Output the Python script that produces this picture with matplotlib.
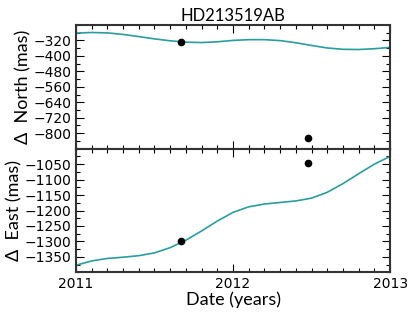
import matplotlib
matplotlib.use('Agg')
import matplotlib.pyplot as plt
from matplotlib.ticker import MultipleLocator

years = [2011.0, 2011.1, 2011.2, 2011.3, 2011.4, 2011.5, 2011.6, 2011.7, 2011.8, 2011.9,
         2012.0, 2012.1, 2012.2, 2012.3, 2012.4, 2012.5, 2012.6, 2012.7, 2012.8, 2012.9, 2013.0]
north_model = [-282, -279, -281, -289, -300, -312, -322, -329, -331, -327,
               -320, -316, -316, -321, -332, -346, -359, -366, -367, -363, -356]
east_model = [-1377, -1363, -1355, -1351, -1346, -1337, -1320, -1296, -1266, -1234,
              -1206, -1188, -1179, -1174, -1169, -1160, -1141, -1113, -1081, -1050, -1025]

# measurements
obs_years = [2011.67, 2012.475]
obs_north = [-328, -827]
obs_east = [-1300, -1047]

label_font = 'Lato'
teal = '#2a9d9d'

fig = plt.figure(figsize=(4.15, 3.12), dpi=100)
gs = fig.add_gridspec(2, 1, left=0.183, right=0.94, top=0.92, bottom=0.127, hspace=0)
ax1 = fig.add_subplot(gs[0])
ax2 = fig.add_subplot(gs[1], sharex=ax1)

ax1.plot(years, north_model, color=teal, lw=1.2)
ax1.plot(obs_years, obs_north, 'o', color='black', ms=4.5)
ax2.plot(years, east_model, color=teal, lw=1.2)
ax2.plot(obs_years, obs_east, 'o', color='black', ms=4.5)

ax1.set_xlim(2011, 2013)
ax1.set_ylim(-880, -240)
ax2.set_ylim(-1400, -1000)

ax1.yaxis.set_minor_locator(MultipleLocator(40))
ax1.set_yticks([-320, -400, -480, -560, -640, -720, -800])
ax2.yaxis.set_minor_locator(MultipleLocator(25))
ax2.set_yticks([-1050, -1100, -1150, -1200, -1250, -1300, -1350])
ax2.set_xticks([2011, 2012, 2013])
ax2.set_xticklabels(['2011', '2012', '2013'])
ax2.xaxis.set_minor_locator(MultipleLocator(0.1))
plt.setp(ax1.get_xticklabels(), visible=False)

for ax in (ax1, ax2):
    ax.tick_params(which='both', direction='in', top=True, right=True, labelsize=10)
    ax.tick_params(which='major', length=6, width=0.8)
    ax.tick_params(which='minor', length=3, width=0.8)
    for s in ax.spines.values():
        s.set_linewidth(1.5)
        s.set_color('#333333')

ax1.set_title('HD213519AB', fontsize=12, family=label_font, pad=3)
ax1.set_ylabel('Δ  North (mas)', fontsize=13, family=label_font, labelpad=1)
ax2.set_ylabel('Δ  East (mas)', fontsize=13, family=label_font, labelpad=1)
ax2.set_xlabel('Date (years)', fontsize=13, family=label_font, labelpad=0)

fig.savefig('out.png', dpi=100)
